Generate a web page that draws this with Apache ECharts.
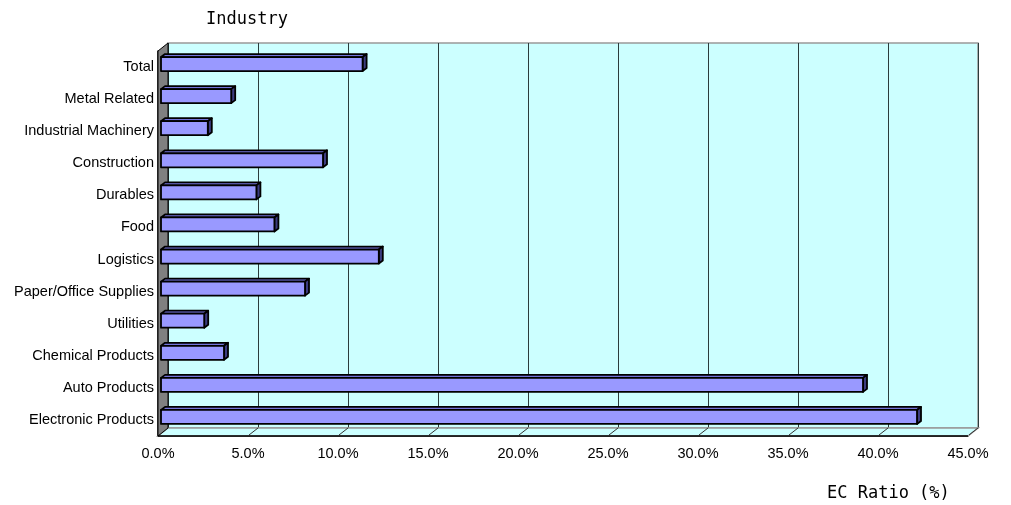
<!DOCTYPE html>
<html>
<head>
<meta charset="utf-8">
<script src="https://cdn.jsdelivr.net/npm/echarts@6/dist/echarts.min.js"></script>
<style>
  html, body { margin: 0; padding: 0; background: #fff; }
  #echarts-container { width: 1011px; height: 505px; }
</style>
</head>
<body>
<div id="echarts-container"></div>
<script>
// data (top to bottom)
var categories = ['Total', 'Metal Related', 'Industrial Machinery', 'Construction', 'Durables', 'Food',
  'Logistics', 'Paper/Office Supplies', 'Utilities', 'Chemical Products', 'Auto Products', 'Electronic Products'];
var ratios = [11.2, 3.9, 2.6, 9.0, 5.3, 6.3, 12.1, 8.0, 2.4, 3.5, 39.0, 42.0];
var xTicks = [0, 5, 10, 15, 20, 25, 30, 35, 40, 45];

var dom = document.getElementById('echarts-container');
var myChart = echarts.init(dom);

var DX = 10, DY = -8; // depth of the 3d box

var barData = ratios.map(function (v, i) { return [v, i]; });

function renderFrame(params, api) {
  var cs = params.coordSys;
  var L = cs.x, T = cs.y, R = cs.x + cs.width, B = cs.y + cs.height;
  var children = [
    {
      type: 'polygon',
      shape: { points: [[L, B], [L + DX, B + DY], [R + DX, B + DY], [R, B]] },
      style: { fill: '#CCFFFF', stroke: '#999999', lineWidth: 1.5 }
    },
    {
      type: 'polygon',
      shape: { points: [[L, T], [L + DX, T + DY], [L + DX, B + DY], [L, B]] },
      style: { fill: '#808080', stroke: '#000', lineWidth: 1 }
    }
  ];
  xTicks.forEach(function (t) {
    if (t === 0) return;
    var p = api.coord([t, 0]);
    children.push({
      type: 'line',
      shape: { x1: p[0] + DX, y1: B + DY, x2: p[0] + 1, y2: B - 1 },
      style: { stroke: '#333', lineWidth: 1 }
    });
  });
  children.push({
    type: 'line',
    shape: { x1: L, y1: B, x2: R, y2: B },
    style: { stroke: '#000', lineWidth: 1.5 }
  });
  return { type: 'group', children: children };
}

function renderBar(params, api) {
  var v = api.value(0), c = api.value(1);
  var p0 = api.coord([0, c]);
  var p1 = api.coord([v, c]);
  var x0 = p0[0] + 3, x1 = p1[0] + 3;
  var yc = p0[1] - 3;
  var top = yc - 7, bot = yc + 7;
  var dx = 4, dy = -3;
  var st = { stroke: '#000', lineWidth: 1.8, lineJoin: 'round' };
  return {
    type: 'group',
    children: [
      { type: 'polygon', shape: { points: [[x0, top], [x0 + dx, top + dy], [x1 + dx, top + dy], [x1, top]] },
        style: Object.assign({ fill: '#7272D8' }, st) },
      { type: 'polygon', shape: { points: [[x1, top], [x1 + dx, top + dy], [x1 + dx, bot + dy], [x1, bot]] },
        style: Object.assign({ fill: '#3C3C80' }, st) },
      { type: 'rect', shape: { x: x0, y: top, width: x1 - x0, height: bot - top },
        style: Object.assign({ fill: '#9999FF' }, st) }
    ]
  };
}

var option = {
  animation: false,
  title: [
    {
      text: 'Industry', left: 201, top: 6,
      textStyle: { fontFamily: 'DejaVu Sans Mono', fontSize: 17, fontWeight: 'normal', color: '#000' }
    },
    {
      text: 'EC Ratio (%)', left: 822, top: 480,
      textStyle: { fontFamily: 'DejaVu Sans Mono', fontSize: 17, fontWeight: 'normal', color: '#000' }
    }
  ],
  grid: [
    { // back wall
      left: 168, top: 43, width: 810, height: 385,
      show: true, backgroundColor: '#CCFFFF', borderColor: '#999999', borderWidth: 1.5
    },
    { // front plane
      left: 158, top: 51, width: 810, height: 385, show: false
    }
  ],
  xAxis: [
    {
      gridIndex: 0, type: 'value', min: 0, max: 45, interval: 5,
      axisLine: { show: false }, axisTick: { show: false }, axisLabel: { show: false },
      splitLine: { show: true, lineStyle: { color: '#2b3b3b', width: 1 } }
    },
    {
      gridIndex: 1, type: 'value', min: 0, max: 45, interval: 5,
      axisLine: { show: true, lineStyle: { color: '#000', width: 1.5 } },
      axisTick: { show: false },
      splitLine: { show: false },
      axisLabel: {
        margin: 10, color: '#000', fontSize: 14.5, fontFamily: 'Liberation Sans',
        formatter: function (v) { return v.toFixed(1) + '%'; }
      }
    }
  ],
  yAxis: [
    {
      gridIndex: 0, type: 'value', show: false, splitLine: { show: false }
    },
    {
      gridIndex: 1, type: 'category', data: categories, inverse: true,
      axisLine: { show: true, lineStyle: { color: '#000', width: 1.5 } },
      axisTick: { show: true, inside: true, length: 4, lineStyle: { color: '#222' } },
      axisLabel: { margin: 4, color: '#000', fontSize: 14.5, fontFamily: 'Liberation Sans' }
    }
  ],
  series: [
    {
      type: 'custom', xAxisIndex: 1, yAxisIndex: 1,
      renderItem: renderFrame, data: [[0, 0]], silent: true, z: 1,
      encode: { x: 0, y: 1 }
    },
    {
      type: 'custom', xAxisIndex: 1, yAxisIndex: 1,
      renderItem: renderBar, data: barData, z: 3,
      encode: { x: 0, y: 1 }
    }
  ]
};

myChart.setOption(option);
window.addEventListener('resize', myChart.resize);
</script>
</body>
</html>
